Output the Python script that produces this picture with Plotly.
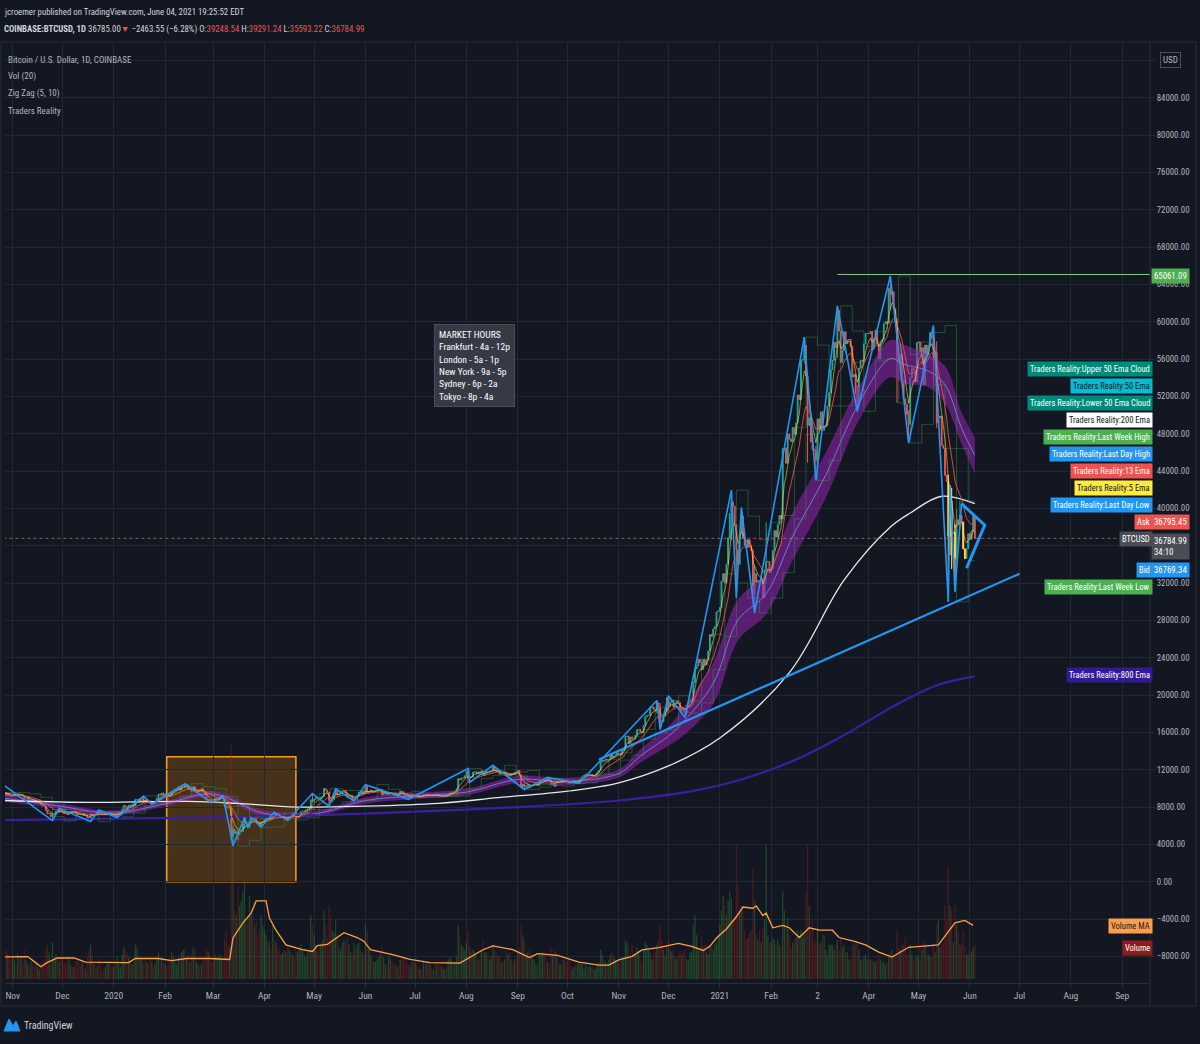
import numpy as np
import pandas as pd
import plotly.graph_objects as go

# ------------------------------------------------------------------ data
start_date = "2019-10-27"
first_open = 9.24  # thousand USD

# daily closes, thousand USD
close_2019 = [9.55, 9.25, 9.43, 9.18, 9.15,
    9.25, 9.31, 9.18, 9.41, 9.32, 9.34, 9.2, 8.77, 8.81, 9.04, 8.73, 8.82, 8.76, 8.65, 8.46, 8.48, 8.5, 8.18, 8.12, 8.08,
    7.62, 7.29, 7.32, 6.98, 7.15, 7.17, 7.52, 7.43, 7.76, 7.56,
    7.42, 7.32, 7.29, 7.2, 7.39, 7.54, 7.5, 7.52, 7.34, 7.22, 7.2, 7.19, 7.25, 7.07, 7.11, 6.88, 6.62, 7.28, 7.15, 7.19,
    7.14, 7.51, 7.32, 7.25, 7.2, 7.19, 7.25, 7.3, 7.39, 7.22, 7.17]
close_2020 = [7.18, 6.95, 7.34, 7.35, 7.35, 7.76, 8.16, 8.04, 7.82, 8.19, 8.02, 8.18, 8.11, 8.81, 8.81, 8.72, 8.9, 8.9, 8.7, 8.62,
    8.73, 8.66, 8.39, 8.43, 8.34, 8.6, 8.9, 9.38, 9.3, 9.5, 9.35,
    9.39, 9.34, 9.29, 9.18, 9.61, 9.77, 9.8, 9.9, 10.16, 9.85, 10.27, 10.35, 10.24, 10.37, 9.9, 9.93, 9.7, 10.18, 9.6, 9.6,
    9.69, 9.67, 9.97, 9.66, 9.32, 8.79, 8.82, 8.7, 8.53,
    8.52, 8.91, 8.76, 8.76, 9.07, 9.15, 8.9, 8.04, 7.93, 7.91, 7.95, 4.86, 5.6, 5.17, 5.36, 5.03, 5.33, 5.38, 6.19, 6.2,
    6.19, 5.83, 6.48, 6.77, 6.69, 6.76, 6.37, 6.25, 5.88, 6.39, 6.42,
    6.64, 6.8, 6.74, 6.87, 6.78, 7.34, 7.2, 7.36, 7.3, 6.86, 6.9, 6.91, 6.86, 6.87, 6.63, 7.11, 7.1, 7.26, 7.13, 6.85,
    6.85, 7.13, 7.5, 7.55, 7.56, 7.7, 7.8, 7.78, 8.78, 8.62,
    8.83, 8.97, 8.91, 8.89, 9.03, 9.15, 9.99, 9.81, 9.55, 8.73, 8.56, 8.81, 9.3, 9.79, 9.31, 9.38, 9.67, 9.72, 9.78, 9.52,
    9.06, 9.17, 9.18, 8.72, 8.9, 8.84, 9.2, 9.58, 9.43, 9.7, 9.45,
    10.2, 9.52, 9.67, 9.79, 9.62, 9.67, 9.75, 9.78, 9.78, 9.89, 9.28, 9.46, 9.47, 9.34, 9.43, 9.52, 9.45, 9.38, 9.3, 9.36,
    9.29, 9.68, 9.63, 9.29, 9.25, 9.16, 9.01, 9.12, 9.19, 9.14,
    9.23, 9.09, 9.06, 9.13, 9.07, 9.34, 9.25, 9.43, 9.24, 9.28, 9.23, 9.3, 9.24, 9.25, 9.19, 9.13, 9.15, 9.17, 9.21, 9.16,
    9.39, 9.53, 9.61, 9.55, 9.7, 9.93, 11.03, 10.91, 11.1, 11.11, 11.35,
    11.8, 11.07, 11.23, 11.19, 11.74, 11.77, 11.6, 11.75, 11.68, 11.88, 11.4, 11.58, 11.78, 11.77, 11.86, 11.91, 12.29, 11.96, 11.75, 11.87,
    11.52, 11.68, 11.65, 11.75, 11.32, 11.46, 11.33, 11.53, 11.47, 11.71, 11.66,
    11.92, 11.4, 10.17, 10.47, 10.17, 10.26, 10.38, 10.13, 10.24, 10.36, 10.4, 10.44, 10.33, 10.68, 10.79, 10.95, 10.94, 10.93, 11.08, 10.92,
    10.42, 10.53, 10.24, 10.74, 10.69, 10.73, 10.77, 10.7, 10.84, 10.78,
    10.62, 10.57, 10.55, 10.67, 10.79, 10.6, 10.67, 10.92, 11.06, 11.3, 11.38, 11.54, 11.43, 11.43, 11.5, 11.32, 11.36, 11.5, 11.75, 11.92,
    12.82, 12.99, 12.93, 13.13, 13.03, 13.07, 13.65, 13.28, 13.46, 13.56, 13.8,
    13.76, 13.56, 14.03, 14.15, 15.59, 15.59, 14.83, 15.48, 15.33, 15.3, 15.7, 16.28, 16.32, 16.07, 15.96, 16.73, 17.68, 17.8, 17.82, 18.68,
    18.71, 18.42, 18.36, 19.16, 18.73, 17.15, 17.14, 17.72, 18.18, 19.7,
    18.79, 19.22, 19.45, 18.7, 19.15, 19.37, 19.17, 18.32, 18.55, 18.26, 18.04, 18.8, 19.17, 19.27, 19.44, 21.35, 22.81, 23.1, 23.84, 23.48,
    22.74, 23.82, 23.24, 23.73, 24.71, 26.49, 26.28, 27.08, 27.36, 28.9, 29.0]
close_2021 = [29.37, 32.2, 33.0, 32.02, 34.05, 36.86, 39.43, 40.67, 40.24, 38.24, 35.57, 34.0, 37.39, 39.16, 36.8, 36.02, 35.8, 36.63, 35.91, 35.47,
    30.82, 33.0, 32.08, 32.26, 32.25, 32.5, 30.4, 33.4, 34.27, 34.3, 33.11,
    33.5, 35.48, 37.62, 36.93, 38.3, 39.24, 38.87, 46.4, 46.48, 44.84, 47.97, 47.41, 47.17, 48.66, 47.94, 49.15, 52.15, 51.65, 55.9, 55.92,
    57.49, 54.2, 48.88, 49.71, 47.1, 46.33, 46.19, 45.14,
    49.59, 48.44, 50.35, 48.37, 48.75, 48.88, 50.97, 52.38, 54.88, 55.86, 57.79, 57.23, 61.19, 59.0, 55.64, 56.91, 58.92, 57.65, 58.03, 58.1,
    57.35, 54.08, 54.34, 52.3, 51.3, 55.03, 55.84, 55.78, 57.63, 58.73, 58.74,
    58.72, 58.96, 57.06, 58.2, 59.12, 57.6, 56.0, 57.88, 58.08, 59.77, 59.99, 59.83, 63.58, 62.96, 63.2, 61.38, 60.04, 56.15, 55.66, 56.47,
    53.81, 51.73, 51.15, 50.05, 49.0, 54.02, 55.03, 54.82, 53.56, 57.75,
    57.83, 56.63, 57.2, 53.24, 57.49, 56.44, 57.39, 58.84, 58.23, 55.86, 56.7, 49.15, 49.72, 49.88, 46.76, 46.43, 43.54, 42.9, 37.0, 40.78,
    37.3, 37.46, 34.7, 38.79, 38.32, 39.24, 38.53, 35.66, 34.62, 35.68, 37.29,
    36.69, 37.57, 39.19, 36.785]

# daily volume, thousand BTC
vol_2019 = [11, 12, 10, 9, 8,
    9, 8, 6, 10, 8, 9, 7, 12, 8, 6, 5, 7, 6, 5, 6, 5, 4, 7, 6, 8, 12, 14, 11, 6, 15, 9, 10, 8, 7, 9,
    8, 6, 7, 7, 9, 6, 5, 5, 7, 8, 7, 6, 7, 5, 4, 9, 12, 14, 10, 6, 4, 5, 8, 6, 4, 4, 5, 6, 7, 6, 5]
vol_2020 = [5, 7, 9, 6, 5, 10, 13, 12, 11, 9, 7, 6, 7, 14, 13, 10, 9, 8, 6, 8, 7, 6, 8, 7, 5, 6, 9, 11, 8, 9, 7,
    6, 5, 7, 8, 11, 9, 7, 6, 9, 10, 11, 12, 13, 9, 10, 7, 10, 13, 12, 7, 6, 5, 6, 8, 9, 13, 11, 10, 7,
    7, 10, 9, 9, 10, 9, 8, 16, 20, 14, 13, 96, 70, 28, 26, 38, 30, 32, 36, 40, 24, 26, 34, 28, 26, 22, 24, 18, 20, 26, 22,
    20, 18, 16, 15, 12, 22, 16, 15, 13, 12, 10, 11, 12, 11, 13, 12, 11, 10, 9, 12, 11, 12, 14, 12, 10, 9, 11, 12, 26, 22,
    18, 14, 11, 13, 14, 16, 28, 22, 17, 30, 26, 20, 19, 24, 18, 13, 12, 15, 16, 15, 17, 14, 11, 10, 15, 13, 14, 15, 12, 11, 10,
    22, 20, 12, 10, 9, 7, 7, 8, 9, 10, 13, 9, 6, 6, 9, 8, 7, 6, 6, 5, 5, 8, 8, 9, 8, 7, 6, 5, 7, 7,
    7, 6, 5, 4, 4, 7, 6, 7, 6, 6, 4, 4, 6, 6, 5, 6, 5, 4, 4, 5, 8, 9, 8, 7, 7, 9, 22, 18, 14, 13, 12,
    15, 20, 13, 11, 12, 11, 10, 8, 8, 12, 16, 11, 11, 10, 8, 9, 14, 12, 11, 9, 10, 7, 7, 8, 12, 10, 11, 8, 7, 8, 8,
    11, 13, 22, 18, 16, 10, 11, 12, 10, 9, 8, 6, 6, 10, 10, 11, 10, 9, 7, 6, 13, 10, 12, 11, 9, 6, 6, 8, 8, 7,
    7, 8, 5, 4, 5, 6, 6, 7, 6, 6, 4, 6, 5, 5, 5, 5, 4, 4, 6, 7, 12, 10, 8, 7, 6, 8, 10, 11, 9, 8, 7,
    6, 8, 9, 9, 16, 15, 12, 9, 14, 10, 10, 13, 11, 8, 7, 12, 15, 14, 12, 11, 8, 10, 11, 14, 16, 22, 16, 12, 9, 13,
    16, 12, 11, 12, 9, 8, 10, 12, 10, 11, 12, 8, 8, 11, 11, 22, 26, 18, 12, 13, 17, 13, 14, 11, 10, 14, 13, 12, 14, 15, 18]
vol_2021 = [22, 28, 34, 30, 26, 32, 36, 33, 24, 26, 55, 38, 28, 30, 28, 20, 16, 17, 19, 20, 45, 32, 18, 16, 20, 15, 21, 24, 55, 18, 15,
    15, 17, 16, 14, 16, 14, 13, 36, 28, 22, 25, 18, 13, 15, 16, 17, 20, 18, 20, 17, 18, 36, 55, 30, 20, 24, 16, 15,
    21, 14, 15, 18, 18, 12, 10, 14, 14, 14, 12, 14, 16, 12, 17, 13, 14, 11, 11, 8, 8, 14, 14, 15, 15, 12, 8, 8, 9, 10, 8,
    9, 8, 8, 7, 7, 8, 10, 8, 7, 7, 6, 7, 10, 11, 12, 9, 9, 20, 13, 12, 14, 14, 17, 10, 10, 14, 10, 8, 9, 10,
    9, 8, 12, 16, 14, 10, 10, 9, 9, 14, 11, 22, 24, 13, 14, 15, 30, 24, 46, 30, 28, 15, 30, 22, 20, 14, 14, 20, 13, 10, 10,
    12, 11, 13, 14]

# notable wicks (thousand USD)
wick_dates = ['2019-11-25', '2019-12-18', '2020-01-19', '2020-02-13', '2020-03-12', '2020-03-13', '2020-03-16', '2020-03-20',
              '2020-04-30', '2020-05-10', '2020-06-01', '2020-08-02', '2020-08-17', '2020-09-03', '2020-09-05', '2020-11-24',
              '2020-11-26', '2020-12-01', '2021-01-08', '2021-01-11', '2021-01-21', '2021-01-22', '2021-01-29', '2021-02-21',
              '2021-02-23', '2021-02-28', '2021-03-13', '2021-03-25', '2021-04-14', '2021-04-18', '2021-04-25', '2021-05-10',
              '2021-05-12', '2021-05-19', '2021-05-20', '2021-05-21', '2021-05-23', '2021-05-24', '2021-05-26']
wick_highs = [7.3, 7.4, 9.19, 10.5, 7.97, 6.0, 5.38, 6.9, 9.46, 9.58, 10.43, 12.12, 12.47, 11.46, 10.58, 19.42,
              19.15, 19.92, 41.95, 38.26, 35.6, 33.8, 38.5, 58.35, 54.2, 46.7, 61.7, 53.2, 64.9, 60.4, 50.5, 59.6,
              57.9, 43.6, 42.5, 42.2, 38.3, 39.9, 40.8]
wick_lows = [6.52, 6.43, 8.47, 10.08, 4.44, 3.85, 4.44, 5.67, 8.42, 8.1, 9.42, 10.65, 11.68, 10.0, 9.88, 18.05,
             16.3, 18.33, 36.57, 30.4, 30.1, 28.8, 31.9, 55.5, 44.9, 43.0, 56.1, 50.4, 61.3, 51.3, 47.0, 53.4,
             48.6, 30.0, 35.0, 33.5, 31.1, 34.4, 37.8]
vector_dates = ['2021-05-19', '2021-05-20', '2021-05-21', '2021-05-23', '2021-05-28', '2021-05-29']

# Zig Zag (5, 10) pivots
zigzag_dates = ['2019-10-27', '2019-11-25', '2019-11-29', '2019-12-18', '2019-12-23', '2020-01-03', '2020-01-19', '2020-01-24',
                '2020-02-13', '2020-02-29', '2020-03-07', '2020-03-13', '2020-03-20', '2020-03-22', '2020-03-24', '2020-03-30',
                '2020-04-07', '2020-04-15',
                '2020-04-30', '2020-05-10', '2020-05-14', '2020-05-25', '2020-06-01', '2020-06-27', '2020-08-02', '2020-08-03',
                '2020-08-17', '2020-09-05', '2020-09-19', '2020-10-08', '2020-11-24', '2020-11-26', '2020-12-01', '2020-12-11',
                '2021-01-08', '2021-01-11',
                '2021-01-14', '2021-01-22', '2021-02-21', '2021-02-28', '2021-03-13', '2021-03-25', '2021-04-14', '2021-04-25',
                '2021-05-10', '2021-05-19', '2021-05-20', '2021-05-23', '2021-05-27']
zigzag_vals = [10.3, 6.55, 7.87, 6.45, 7.68, 6.87, 9.18, 8.3,
               10.5, 8.45, 9.2, 3.85, 6.9, 5.75, 6.85, 5.87,
               7.45, 6.55,
               9.45, 8.1, 9.95, 8.65, 10.4, 8.83, 12.12, 10.65,
               12.47, 9.88, 11.18, 10.53, 19.42, 16.3, 19.92, 17.6,
               41.95, 30.4,
               40.1, 28.8, 58.35, 43.0, 61.7, 50.4, 64.9, 47.0,
               59.6, 30.0, 42.5, 31.1, 40.5]
triangle_dates = ['2021-05-27', '2021-06-10', '2021-05-30']
triangle_vals = [40.5, 38.2, 33.6]

# Traders Reality 50 EMA cloud (thousand USD)
cloud_dates = ['2019-10-27', '2019-12-01', '2020-01-01', '2020-02-01', '2020-03-01', '2020-04-01', '2020-05-01', '2020-06-01',
               '2020-07-01', '2020-08-01', '2020-09-01', '2020-10-01', '2020-11-01', '2020-11-15', '2020-12-01', '2020-12-08',
               '2020-12-28', '2021-01-12', '2021-01-29', '2021-02-14', '2021-03-06', '2021-03-26', '2021-04-14', '2021-04-22',
               '2021-05-07', '2021-05-17', '2021-05-27', '2021-06-04']
cloud_upper = [9.3, 8.3, 7.6, 8.6, 9.7, 7.6, 7.5, 9.0, 9.5, 9.9, 11.3, 11.1, 12.0, 14.3, 16.6, 18.1,
               23.4, 30.2, 33.0, 39.5, 45.9, 53.0, 58.0, 57.5, 56.4, 55.2, 50.2, 47.6]
cloud_lower = [8.6, 7.8, 7.1, 8.1, 9.1, 7.0, 7.0, 8.4, 8.9, 9.3, 10.6, 10.4, 11.2, 12.9, 14.6, 15.4,
               19.1, 25.9, 28.7, 34.5, 41.2, 49.5, 54.1, 53.4, 53.0, 51.3, 47.0, 43.8]

ema200_dates = ['2019-10-27', '2019-12-15', '2020-02-15', '2020-03-15', '2020-04-20', '2020-06-01', '2020-07-15', '2020-08-20',
                '2020-10-01', '2020-11-01', '2020-12-01', '2021-01-01', '2021-02-12', '2021-03-17', '2021-04-14', '2021-04-26',
                '2021-05-15', '2021-06-04']
ema200_vals = [8.7, 8.5, 8.6, 8.4, 8.0, 8.1, 8.4, 9.0, 9.7, 10.6, 12.4, 15.4, 22.4, 32.3, 38.0, 39.5, 41.3, 40.5]

ema800_dates = ['2019-10-27', '2020-03-01', '2020-06-01', '2020-09-01', '2020-11-01', '2020-12-15', '2021-01-15', '2021-02-15',
                '2021-03-12', '2021-04-19', '2021-05-13', '2021-06-04']
ema800_vals = [6.6, 6.9, 7.3, 8.0, 8.7, 9.7, 11.0, 13.0, 15.2, 19.1, 21.1, 22.0]

# Volume MA (20), thousand BTC
volma_dates = ['2019-10-27', '2019-11-10', '2019-11-15', '2019-11-18', '2019-11-22', '2019-11-28', '2019-12-08', '2019-12-15',
               '2020-01-10', '2020-01-14', '2020-01-28', '2020-02-05', '2020-02-14', '2020-02-28', '2020-03-11', '2020-03-13',
               '2020-03-19', '2020-03-24', '2020-03-27', '2020-04-02', '2020-04-04', '2020-04-08', '2020-04-14', '2020-04-24',
               '2020-04-30', '2020-05-03', '2020-05-09', '2020-05-15', '2020-05-19', '2020-05-27', '2020-05-31', '2020-06-04',
               '2020-06-18', '2020-06-28', '2020-07-10', '2020-07-28', '2020-08-11', '2020-08-17', '2020-08-29', '2020-09-08',
               '2020-09-13', '2020-09-25', '2020-10-08', '2020-10-20', '2020-10-26', '2020-11-01', '2020-11-09', '2020-11-15',
               '2020-11-25', '2020-12-07', '2020-12-15', '2020-12-22', '2020-12-26', '2020-12-30', '2021-01-05', '2021-01-11',
               '2021-01-15', '2021-01-21', '2021-01-23', '2021-01-27', '2021-01-29', '2021-02-02', '2021-02-08', '2021-02-12',
               '2021-02-18', '2021-02-24', '2021-03-02', '2021-03-10', '2021-03-14', '2021-03-24', '2021-03-30', '2021-04-07',
               '2021-04-15', '2021-04-25', '2021-05-05', '2021-05-13', '2021-05-23', '2021-05-29', '2021-06-03']
volma_vals = [9.1, 9.2, 6.6, 5.0, 6.8, 8.6, 8.6, 6.9, 6.7, 8.4, 8.4, 7.5, 8.4, 8.4, 8.0, 16.8,
              23.0, 27.0, 32.0, 32.0, 25.0, 20.0, 14.0, 12.0, 11.3, 13.7, 14.2, 17.0, 19.0, 17.0, 15.5, 12.0,
              9.9, 8.0, 6.7, 6.5, 12.0, 13.6, 12.0, 8.8, 10.4, 9.7, 6.9, 5.7, 5.7, 7.8, 9.3, 11.9,
              12.9, 14.6, 13.4, 11.7, 13.4, 16.8, 20.5, 25.5, 29.5, 29.0, 30.0, 26.0, 27.0, 21.0, 22.0, 21.0,
              17.0, 21.0, 20.0, 20.0, 17.0, 15.3, 14.0, 11.0, 9.0, 13.0, 13.5, 14.0, 23.0, 24.0, 22.0]

trend_dates = ['2020-10-20', '2021-07-01']
trend_vals = [13.1, 33.0]
ath_dates = ['2021-03-13', '2021-10-15']
ath_level = 65061.09
last_price = 36784.99
box_dates = ['2020-02-02', '2020-04-20']
box_vals = [0.0, 13.4]

x_tick_dates = ['2019-11-01', '2019-12-01', '2020-01-01', '2020-02-01', '2020-03-01', '2020-04-01', '2020-05-01', '2020-06-01',
                '2020-07-01', '2020-08-01', '2020-09-01', '2020-10-01', '2020-11-01', '2020-12-01', '2021-01-01', '2021-02-01',
                '2021-03-01', '2021-04-01', '2021-05-01', '2021-06-01', '2021-07-01', '2021-08-01', '2021-09-01']
x_tick_text = ['Nov', 'Dec', '2020', 'Feb', 'Mar', 'Apr', 'May', 'Jun', 'Jul', 'Aug', 'Sep', 'Oct', 'Nov', 'Dec',
               '2021', 'Feb', '2', 'Apr', 'May', 'Jun', 'Jul', 'Aug', 'Sep']
y_tick_vals = list(range(-8000, 88001, 4000))
y_tick_hidden = [88000, 36000]   # covered by the USD badge and the last-price tag

# ------------------------------------------------------------------ derived series
K = 1000.0
closes = np.array(close_2019 + close_2020 + close_2021) * K
vols = np.array(vol_2019 + vol_2020 + vol_2021, dtype=float)
n = min(len(closes), len(vols))
closes, vols = closes[:n], vols[:n]
dates = pd.date_range(start_date, periods=n, freq="D")
opens = np.concatenate([[first_open * K], closes[:-1]])
highs = np.maximum(opens, closes)
lows = np.minimum(opens, closes)
for d, h, l in zip(wick_dates, wick_highs, wick_lows):
    ts = pd.Timestamp(d)
    if ts in dates:
        i = dates.get_loc(ts)
        highs[i] = max(highs[i], h * K)
        lows[i] = min(lows[i], l * K)

cs = pd.Series(closes, index=dates)
ema5 = cs.ewm(span=5, adjust=False).mean()
ema13 = cs.ewm(span=13, adjust=False).mean()

wk = dates.to_period("W-SUN")
wk_high = pd.Series(highs, index=dates).groupby(wk).max().shift(1)
wk_low = pd.Series(lows, index=dates).groupby(wk).min().shift(1)
lw_high = wk_high.reindex(wk).values
lw_low = wk_low.reindex(wk).values

up = closes >= opens
vol_colors = np.where(up, "rgba(46,125,50,0.48)", "rgba(183,28,28,0.36)")

cloud_mid = [(a + b) / 2 for a, b in zip(cloud_upper, cloud_lower)]

# ------------------------------------------------------------------ figure
FONT = ("Roboto Condensed, Noto Sans ExtraCondensed, Noto Sans Condensed, Liberation Sans Narrow, "
        "Arial Narrow, Liberation Sans, Arial, sans-serif")
BG = "#131722"
GRID = "#232733"

fig = go.Figure()

fig.add_trace(go.Bar(x=dates, y=vols, marker=dict(color=vol_colors, line=dict(width=0)),
                     width=0.75 * 86400000, yaxis="y", hoverinfo="skip"))
fig.add_trace(go.Scatter(x=pd.to_datetime(volma_dates), y=volma_vals, mode="lines",
                         line=dict(color="#ff9f43", width=1.3), yaxis="y", hoverinfo="skip"))

# 50 EMA cloud
fig.add_trace(go.Scatter(x=pd.to_datetime(cloud_dates), y=np.array(cloud_upper) * K, mode="lines",
                         line=dict(color="rgba(142,36,170,0.55)", width=0.5, shape="spline"), yaxis="y2", hoverinfo="skip"))
fig.add_trace(go.Scatter(x=pd.to_datetime(cloud_dates), y=np.array(cloud_lower) * K, mode="lines", fill="tonexty",
                         fillcolor="rgba(142,36,170,0.58)",
                         line=dict(color="rgba(142,36,170,0.55)", width=0.5, shape="spline"), yaxis="y2", hoverinfo="skip"))
fig.add_trace(go.Scatter(x=pd.to_datetime(cloud_dates), y=np.array(cloud_mid) * K, mode="lines",
                         line=dict(color="rgba(120,150,240,0.75)", width=1, shape="spline"), yaxis="y2", hoverinfo="skip"))
# 800 / 200 EMA
fig.add_trace(go.Scatter(x=pd.to_datetime(ema800_dates), y=np.array(ema800_vals) * K, mode="lines",
                         line=dict(color="#3c1fa0", width=2.2, shape="spline"), yaxis="y2", hoverinfo="skip"))
fig.add_trace(go.Scatter(x=pd.to_datetime(ema200_dates), y=np.array(ema200_vals) * K, mode="lines",
                         line=dict(color="#e8e8e8", width=1.3, shape="spline"), yaxis="y2", hoverinfo="skip"))
# last week high / low
fig.add_trace(go.Scatter(x=dates, y=lw_high, mode="lines", line=dict(color="rgba(67,160,71,0.42)", width=1, shape="hv"),
                         yaxis="y2", hoverinfo="skip"))
fig.add_trace(go.Scatter(x=dates, y=lw_low, mode="lines", line=dict(color="rgba(67,160,71,0.42)", width=1, shape="hv"),
                         yaxis="y2", hoverinfo="skip"))
# trend line
fig.add_trace(go.Scatter(x=pd.to_datetime(trend_dates), y=np.array(trend_vals) * K, mode="lines",
                         line=dict(color="#2196f3", width=2.2), yaxis="y2", hoverinfo="skip"))
# candles
fig.add_trace(go.Candlestick(x=dates, open=opens, high=highs, low=lows, close=closes, yaxis="y2",
                             increasing=dict(line=dict(color="#26a69a", width=1), fillcolor="#26a69a"),
                             decreasing=dict(line=dict(color="#ef5350", width=1), fillcolor="#ef5350"),
                             hoverinfo="skip"))
vmask = dates.isin(pd.to_datetime(vector_dates))
fig.add_trace(go.Candlestick(x=dates[vmask], open=opens[vmask], high=highs[vmask], low=lows[vmask], close=closes[vmask],
                             yaxis="y2",
                             increasing=dict(line=dict(color="#ffd740", width=1), fillcolor="#ffd740"),
                             decreasing=dict(line=dict(color="#ffd740", width=1), fillcolor="#ffd740"),
                             hoverinfo="skip"))
fig.add_trace(go.Scatter(x=dates, y=ema13, mode="lines", line=dict(color="rgba(239,83,80,0.85)", width=1),
                         yaxis="y2", hoverinfo="skip"))
fig.add_trace(go.Scatter(x=dates, y=ema5, mode="lines", line=dict(color="rgba(255,235,59,0.55)", width=1),
                         yaxis="y2", hoverinfo="skip"))
# zigzag
fig.add_trace(go.Scatter(x=pd.to_datetime(zigzag_dates), y=np.array(zigzag_vals) * K, mode="lines",
                         line=dict(color="#2196f3", width=1.6), yaxis="y2", hoverinfo="skip"))
fig.add_trace(go.Scatter(x=pd.to_datetime(triangle_dates), y=np.array(triangle_vals) * K, mode="lines",
                         line=dict(color="#2196f3", width=3), yaxis="y2", hoverinfo="skip"))
# ATH level & last price
fig.add_trace(go.Scatter(x=pd.to_datetime(ath_dates), y=[ath_level, ath_level], mode="lines",
                         line=dict(color="#8cc48e", width=1), yaxis="y2", hoverinfo="skip"))
fig.add_trace(go.Scatter(x=[pd.Timestamp("2019-10-01"), pd.Timestamp("2021-10-15")], y=[last_price, last_price],
                         mode="lines", line=dict(color="rgba(190,120,120,0.7)", width=1, dash="dot"),
                         yaxis="y2", hoverinfo="skip"))

# ------------------------------------------------------------------ layout helpers
L, R, T, B = 5, 1150, 42, 983


def px(xp):
    return (xp - L) / (R - L)


def py(yp):
    return (B - yp) / (B - T)


ann = []


def text(x, y, s, size=10, color="#d1d4dc", xanchor="left", yanchor="middle", **kw):
    ann.append(dict(x=px(x), y=py(y), xref="paper", yref="paper", text=s, showarrow=False,
                    xanchor=xanchor, yanchor=yanchor, font=dict(family=FONT, size=size, color=color), **kw))


red = "#ef5350"
text(2, 12, "jcroemer published on TradingView.com, June 04, 2021 19:25:52 EDT", size=8.8, color="#d1d4dc")
text(2, 29, "<b>COINBASE:BTCUSD, 1D</b> 36785.00<span style='color:%s'>▼</span> −2463.55 (−6.28%%) "
            "O:<span style='color:%s'>39248.54</span> H:<span style='color:%s'>39291.24</span> "
            "L:<span style='color:%s'>35593.22</span> C:<span style='color:%s'>36784.99</span>" % (red, red, red, red, red),
     size=8.8, color="#d1d4dc")
for i, s in enumerate(["Bitcoin / U.S. Dollar, 1D, COINBASE", "Vol (20)", "Zig Zag (5, 10)", "Traders Reality"]):
    text(6, 60 + 17 * i, s, size=9, color="#b2b5be")

text(434, 324, "MARKET HOURS<br>Frankfurt - 4a - 12p<br>London - 5a - 1p<br>New York - 9a - 5p<br>"
               "Sydney - 6p - 2a<br>Tokyo - 8p - 4a", size=9.5, color="#ffffff", yanchor="top",
     align="left", bgcolor="#363a45", bordercolor="#4a4e59", borderwidth=1, borderpad=4)

tags = [
    ("Traders Reality:Upper 50 Ema Cloud", "#00897b", "#ffffff", 369),
    ("Traders Reality:50 Ema", "#00bcd4", "#131722", 386),
    ("Traders Reality:Lower 50 Ema Cloud", "#00897b", "#ffffff", 403),
    ("Traders Reality:200 Ema", "#ffffff", "#131722", 420),
    ("Traders Reality:Last Week High", "#4caf50", "#ffffff", 437),
    ("Traders Reality:Last Day High", "#2196f3", "#ffffff", 454),
    ("Traders Reality:13 Ema", "#ef5350", "#ffffff", 471),
    ("Traders Reality:5 Ema", "#ffeb3b", "#131722", 488),
    ("Traders Reality:Last Day Low", "#2196f3", "#ffffff", 505),
    ("Ask", "#ef5350", "#ffffff", 522),
    ("BTCUSD", "#4a4d56", "#ffffff", 539),
    ("Bid", "#2196f3", "#ffffff", 570),
    ("Traders Reality:Last Week Low", "#4caf50", "#ffffff", 587),
    ("Traders Reality:800 Ema", "#311b92", "#ffffff", 675),
    ("Volume MA", "#ff9d4d", "#131722", 926),
    ("Volume", "#8b1d1d", "#ffffff", 948),
]
for s, bg, fg, y in tags:
    text(R + 3, y, s, size=8.5, color=fg, xanchor="right", bgcolor=bg, borderpad=2)

axis_tags = [
    ("65061.09", "#4caf50", 276),
    ("36795.45", "#ef5350", 522),
    ("36784.99<br>34:10", "#4a4d56", 546),
    ("36769.34", "#2196f3", 570),
]
for s, bg, y in axis_tags:
    text(R + 1, y, s, size=8.8, color="#ffffff", xanchor="left", bgcolor=bg, borderpad=2, align="left")

text(1170, 60, "USD", size=9, color="#b2b5be", xanchor="center", bgcolor=BG, bordercolor="#4a4e59",
     borderwidth=1, borderpad=2)
text(22, 1025, "TradingView", size=10, color="#d1d4dc")

shapes = [
    dict(type="rect", xref="x", yref="y2", x0=box_dates[0], x1=box_dates[1], y0=box_vals[0] * K, y1=box_vals[1] * K,
         fillcolor="rgba(255,152,0,0.22)", line=dict(color="#f7a01e", width=1.5), layer="below"),
    dict(type="rect", xref="paper", yref="paper", x0=px(1), x1=px(1196), y0=py(1006), y1=py(42),
         line=dict(color="#2a2e39", width=1), fillcolor="rgba(0,0,0,0)"),
    dict(type="line", xref="paper", yref="paper", x0=px(R), x1=px(R), y0=py(1006), y1=py(42),
         line=dict(color="#2a2e39", width=1)),
    dict(type="path", xref="paper", yref="paper",
         path="M %f,%f L %f,%f L %f,%f L %f,%f L %f,%f Z" % (px(4), py(1031), px(9), py(1019), px(13), py(1026),
                                                             px(16), py(1021), px(20), py(1031)),
         fillcolor="#2196f3", line=dict(color="#2196f3", width=1)),
]

fig.update_layout(
    width=1200, height=1044,
    margin=dict(l=L, r=1200 - R, t=T, b=1044 - B),
    paper_bgcolor=BG, plot_bgcolor=BG,
    showlegend=False, hovermode=False,
    annotations=ann, shapes=shapes,
    xaxis=dict(type="date", range=["2019-10-27 08:00", "2021-09-17 19:00"], rangeslider=dict(visible=False),
               tickvals=x_tick_dates, ticktext=x_tick_text, showgrid=True, gridcolor=GRID, gridwidth=1,
               ticks="outside", ticklen=4, tickcolor="#2a2e39", zeroline=False,
               tickfont=dict(family=FONT, size=9.5, color="#b2b5be"), showline=True, linecolor="#2a2e39"),
    yaxis=dict(range=[-1.64, 384.0], visible=False, showgrid=False, zeroline=False, fixedrange=True),
    yaxis2=dict(overlaying="y", side="right", range=[-10854, 89970], tickvals=y_tick_vals,
                ticktext=["" if v in y_tick_hidden else ("%.2f" % v).replace("-", "−") for v in y_tick_vals],
                showgrid=True, gridcolor=GRID, gridwidth=1, zeroline=False, ticks="outside", ticklen=4,
                tickcolor=GRID, tickfont=dict(family=FONT, size=8.8, color="#b2b5be"),
                showline=False),
)

fig.write_html("out.html")
